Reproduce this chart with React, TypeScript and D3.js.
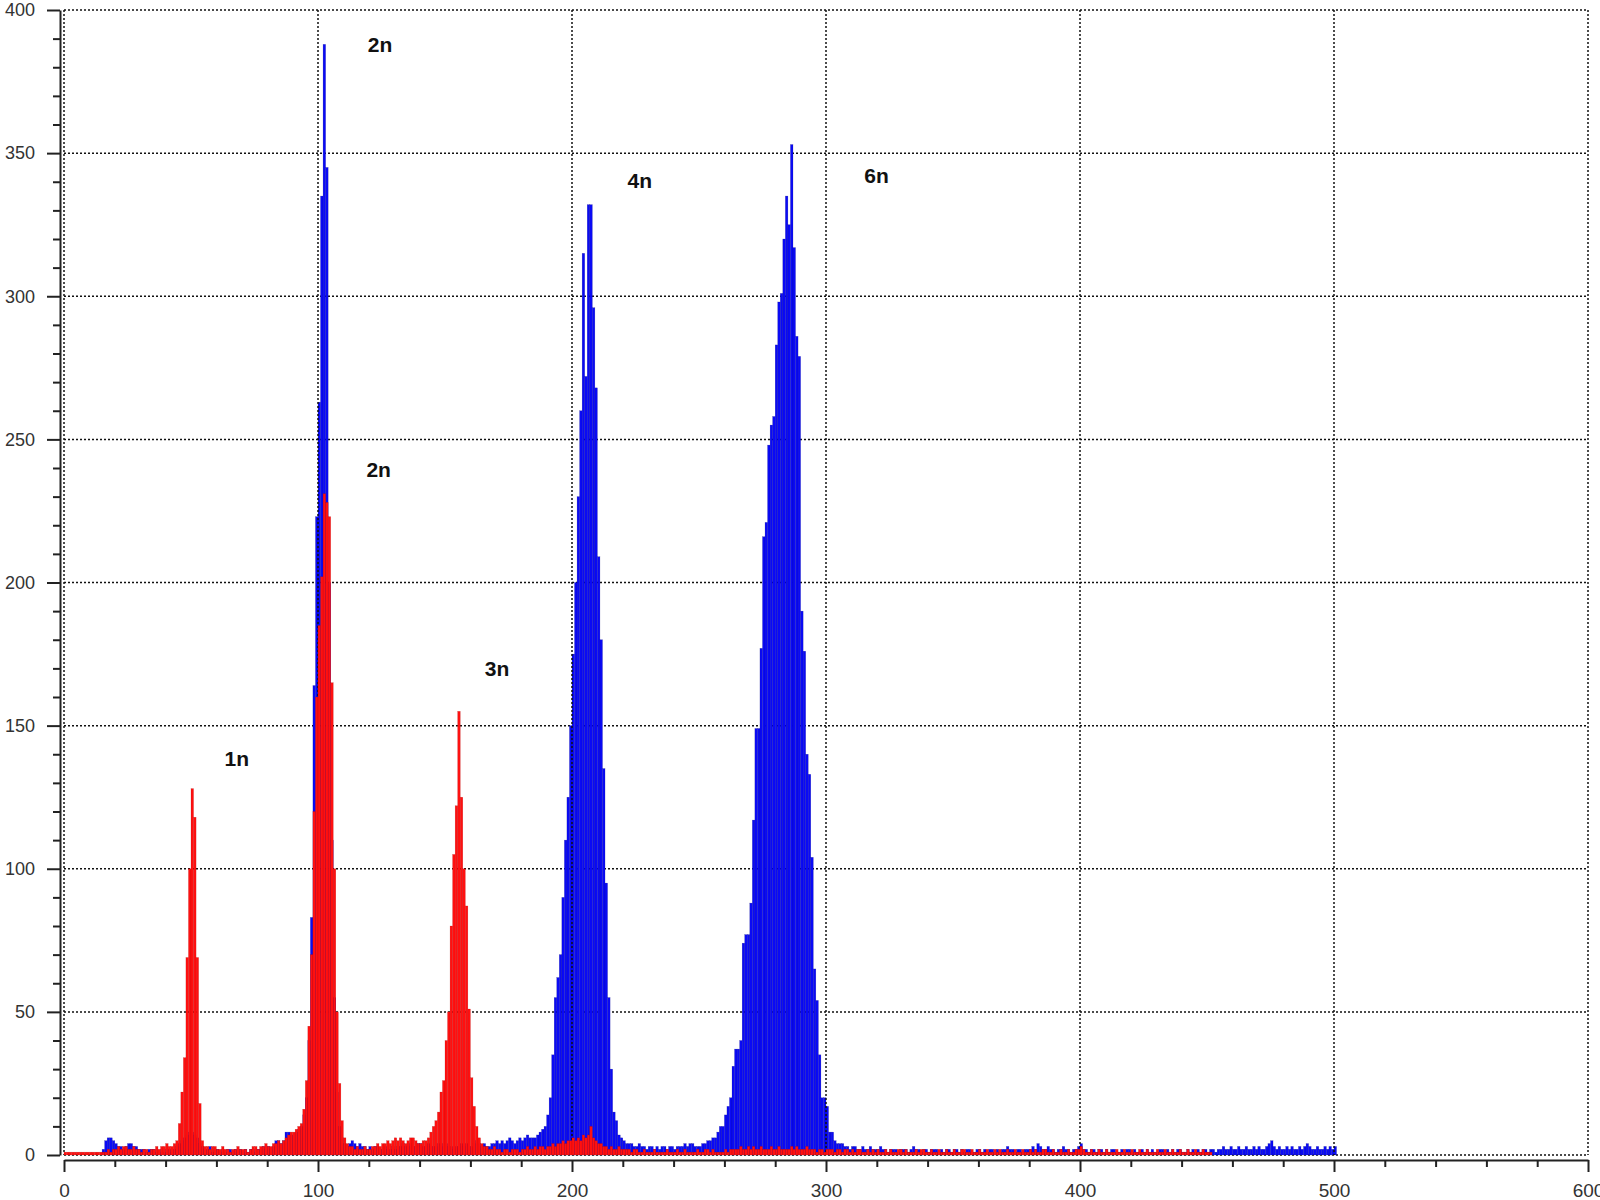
import React, { useEffect, useRef } from "react";
import * as d3 from "d3";

// histogram counts, one value per channel (bin width = 1), each list starts at the given channel
const redLow = [
  1, 1, 1, 1, 1, 1, 1, 1, 1, 1, 1, 1, 1, 1, 1,
  1, 1, 2, 1, 2, 2, 3, 2, 3, 3, 2, 2, 3, 2, 2, 1, 2, 2, 1, 2, 2, 3, 2, 3, 3, 4, 3, 3, 4,
];
const red1n = [5, 11, 22, 34, 69, 100, 128, 118, 69, 18, 5, 3];
const redGapA = [
  3, 2, 3, 3, 2, 2, 3, 2, 2, 1, 2, 2, 3, 2, 2, 2, 1, 2, 3, 3,
  2, 3, 3, 4, 3, 3, 4, 4, 5, 4, 5, 6, 7, 8,
];
const red2n = [8, 9, 10, 11, 16, 26, 45, 70, 120, 160, 185, 202, 231, 228, 223, 165, 100, 50, 25, 12, 6, 4];
const redGapB = [3, 3, 2, 3, 2, 2, 3, 2, 2, 3, 3, 4, 3, 4, 4, 5, 4, 5, 6, 5, 6, 5, 4, 5, 6, 6, 5, 4];
const red3n = [4, 5, 5, 6, 8, 10, 12, 15, 22, 26, 40, 50, 80, 105, 122, 155, 125, 100, 87, 51, 27, 17, 10, 6, 4, 3];
const redGapC = [3, 2, 2, 3, 2, 2, 1, 2, 2, 1, 2, 2, 2, 1, 2, 2, 3, 2, 2, 3, 2, 3, 3, 2];
const redUnder4n = [
  3, 3, 4, 3, 4, 4, 5, 4, 5, 5, 6, 5, 6, 5, 7, 6, 7, 10, 6, 5,
  4, 4, 3, 3, 2, 3, 2, 2, 3, 2, 2,
];
const redMid = [
  2, 2, 1, 2, 2, 1, 1, 2, 1, 1, 1, 2, 1, 1, 1, 1, 2, 1, 1, 1,
  2, 1, 1, 2, 1, 1, 1, 1, 2, 1, 1, 2, 2, 1, 2, 1, 1, 1, 1, 2,
  1, 2, 2, 2, 2, 3, 2, 2, 3, 2, 3, 2, 2, 3, 2, 2, 2, 3, 2, 2,
  3, 2, 2, 2, 2, 3, 2, 3, 2, 2, 2, 3, 2, 2, 2, 1, 2, 2, 1, 2,
];
const redTail = [
  2, 2, 1, 2, 2, 1, 2, 2, 1, 2, 1, 2, 2, 1, 1, 2, 1, 2, 1, 2,
  1, 1, 2, 1, 2, 1, 1, 2, 2, 1, 2, 1, 1, 1, 2, 1, 2, 2, 1, 1,
  2, 1, 1, 2, 1, 1, 2, 1, 1, 2, 1, 1, 2, 2, 1, 1, 2, 1, 1, 2,
  1, 1, 2, 1, 1, 2, 1, 2, 1, 1, 2, 1, 1, 2, 1, 1, 2, 1, 1, 2,
  1, 2, 1, 1, 2, 2, 1, 1, 2, 1, 1, 2, 1, 1, 2, 1, 1, 2, 2, 3,
  2, 1, 1, 2, 1, 1, 2, 1, 1, 2, 1, 1, 1, 2, 1, 1, 2, 1, 1, 2,
  1, 1, 2, 1, 1, 2, 1, 1, 1, 2, 1, 1, 2, 1, 1, 2, 1, 1, 2, 1,
  1, 2, 1, 1, 2, 1, 1, 2, 1, 1, 1,
];

const blueLow = [
  2, 5, 6, 6, 5, 4, 3, 3, 2, 3, 4, 4, 3, 3, 2, 2, 2, 1, 2, 2,
  2, 1, 1, 2, 1, 2, 2, 1, 2, 3, 4, 5, 6, 7, 8, 8, 7, 6, 4, 3,
  2, 2, 3, 1, 2, 2, 1, 2, 1, 2, 2, 1, 2, 1, 2, 1, 2, 1, 2, 2,
  1, 2, 2, 3, 2, 3, 2, 3, 5, 5, 4, 5, 8, 8, 7,
];
const blue2n = [7, 8, 9, 10, 14, 20, 40, 83, 164, 223, 263, 335, 388, 345, 200, 110, 55, 22, 10, 6, 4, 3];
const blueGapA = [
  4, 5, 4, 3, 4, 3, 3, 2, 3, 2, 3, 3, 2, 2, 3, 2, 2, 3, 2, 3,
  3, 4, 3, 3, 4, 3, 3, 4, 4, 3, 3, 4, 3, 3, 3, 4, 3, 4, 4, 3,
  3, 2, 3, 3, 4, 3, 4, 3, 3, 4, 5, 4, 3, 4, 3, 3, 4, 4, 5, 4,
  5, 4, 5, 6, 5, 4, 5, 6, 5, 6, 7, 6,
];
const blue4n = [
  6, 6, 7, 8, 9, 10, 14, 20, 35, 55, 62, 70, 90, 110, 125, 150, 175, 200, 230, 260,
  315, 272, 332, 332, 296, 268, 209, 180, 135, 95, 55, 30, 15, 12, 7, 6, 5, 4, 4,
];
const blueGapB = [4, 3, 3, 4, 3, 3, 2, 3, 3, 2, 3, 2, 3, 3, 2, 3, 3, 2, 3, 3, 3, 4, 3, 4, 4, 3, 3];
const blue6n = [
  3, 4, 4, 5, 5, 6, 6, 8, 10, 10, 14, 17, 20, 31, 37, 37, 40, 74, 77, 77,
  88, 117, 149, 149, 177, 216, 221, 248, 255, 258, 283, 298, 301, 320, 335, 325, 353, 317, 286, 279,
  190, 176, 140, 133, 104, 65, 54, 35, 20, 20, 17, 8, 8, 5, 4, 4,
];
const blueTail = [
  4, 3, 3, 2, 3, 3, 2, 2, 3, 2, 2, 3, 2, 2, 2, 3, 2, 2, 1, 2,
  2, 2, 1, 2, 2, 2, 1, 2, 3, 2, 2, 1, 2, 2, 1, 2, 2, 2, 1, 2,
  1, 2, 2, 1, 2, 2, 1, 2, 1, 2, 2, 1, 1, 2, 2, 1, 2, 1, 2, 2,
  1, 2, 1, 2, 2, 3, 2, 2, 1, 2, 2, 1, 2, 2, 2, 3, 2, 4, 3, 2,
  2, 3, 2, 2, 1, 2, 2, 3, 2, 2, 1, 2, 2, 3, 4, 2, 2, 1, 2, 2,
  1, 2, 2, 1, 2, 1, 2, 2, 1, 1, 2, 1, 2, 2, 1, 2, 1, 1, 2, 1,
  2, 1, 2, 1, 1, 2, 2, 1, 2, 1, 2, 1, 2, 2, 1, 1, 2, 1, 2, 1,
  2, 1, 2, 2, 1, 2, 2, 1, 2, 2, 3, 2, 2, 3, 2, 2, 3, 2, 2, 3,
  2, 2, 3, 2, 3, 2, 2, 3, 4, 5, 3, 2, 3, 2, 2, 3, 2, 3, 2, 2,
  3, 2, 3, 4, 3, 2, 2, 3, 2, 2, 3, 2, 3, 2, 3,
];

const redSegments: [number, number[]][] = [
  [0, redLow], [44, red1n], [56, redGapA], [90, red2n], [112, redGapB],
  [140, red3n], [166, redGapC], [190, redUnder4n], [221, redMid], [301, redTail],
];
const blueSegments: [number, number[]][] = [
  [15, blueLow], [90, blue2n], [112, blueGapA], [184, blue4n],
  [223, blueGapB], [250, blue6n], [306, blueTail],
];

const xTicks = [0, 100, 200, 300, 400, 500, 600];
const yTicks = [0, 50, 100, 150, 200, 250, 300, 350, 400];

const peakLabels = [
  { text: "2n", x: 124.4, y: 388 },
  { text: "2n", x: 123.9, y: 239.5 },
  { text: "4n", x: 226.7, y: 340.4 },
  { text: "6n", x: 319.9, y: 342.2 },
  { text: "3n", x: 170.5, y: 170 },
  { text: "1n", x: 68, y: 138.6 },
];

const W = 1600;
const H = 1200;
const FONT = "'Liberation Sans', Arial, sans-serif";

type Bin = { bin: number; v: number };

const toBins = (segs: [number, number[]][]): Bin[] => {
  const out: Bin[] = [];
  segs.forEach(([start, vals]) => vals.forEach((v, i) => out.push({ bin: start + i, v })));
  return out.filter((d) => d.v > 0);
};

export default function App() {
  const svgRef = useRef<SVGSVGElement>(null);

  useEffect(() => {
    if (!svgRef.current) return;
    const svg = d3.select(svgRef.current);
    svg.selectAll("*").remove();

    const x = d3.scaleLinear().domain([0, 600]).range([64, 1588]);
    const y = d3.scaleLinear().domain([0, 400]).range([1155, 10]);

    svg.append("rect").attr("width", W).attr("height", H).attr("fill", "#fff");

    // horizontal grid sits behind the histograms
    svg
      .append("g")
      .selectAll("line")
      .data(yTicks)
      .join("line")
      .attr("x1", x(0))
      .attr("x2", x(600))
      .attr("y1", (d) => y(d))
      .attr("y2", (d) => y(d))
      .attr("stroke", "#111")
      .attr("stroke-width", 1.5)
      .attr("stroke-dasharray", "2,2");

    const drawBars = (data: Bin[], fill: string, edge: string) => {
      svg
        .append("g")
        .selectAll("rect")
        .data(data)
        .join("rect")
        .attr("x", (d) => x(d.bin))
        .attr("width", (d) => x(d.bin + 1) - x(d.bin))
        .attr("y", (d) => y(d.v))
        .attr("height", (d) => y(0) - y(d.v))
        .attr("fill", fill)
        .attr("stroke", edge)
        .attr("stroke-opacity", 0.45)
        .attr("stroke-width", 0.4);
    };

    drawBars(toBins(blueSegments), "#0a0af5", "#000070");

    // vertical grid is drawn over the blue trace
    svg
      .append("g")
      .selectAll("line")
      .data(xTicks)
      .join("line")
      .attr("x1", (d) => x(d))
      .attr("x2", (d) => x(d))
      .attr("y1", y(400))
      .attr("y2", y(0))
      .attr("stroke", "#111")
      .attr("stroke-width", 1.5)
      .attr("stroke-dasharray", "2,2");

    drawBars(toBins(redSegments), "#ff1010", "#a00000");

    // axes
    const yMinor = d3.range(0, 401, 10).filter((d) => d % 50 !== 0);
    const xMinor = d3.range(0, 601, 20).filter((d) => d % 100 !== 0);

    const yAxis = svg
      .append("g")
      .attr("transform", "translate(60,0)")
      .call(d3.axisLeft(y).tickValues(yTicks).tickSize(13).tickSizeOuter(0).tickPadding(12));
    svg
      .append("g")
      .attr("transform", "translate(60,0)")
      .call(d3.axisLeft(y).tickValues(yMinor).tickSize(7).tickFormat(() => ""))
      .call((g) => g.select(".domain").remove());

    const xAxis = svg
      .append("g")
      .attr("transform", "translate(0,1160)")
      .call(d3.axisBottom(x).tickValues(xTicks).tickSize(12).tickSizeOuter(0).tickPadding(12));
    svg
      .append("g")
      .attr("transform", "translate(0,1160)")
      .call(d3.axisBottom(x).tickValues(xMinor).tickSize(7).tickFormat(() => ""))
      .call((g) => g.select(".domain").remove());

    svg
      .selectAll(".domain, .tick line")
      .attr("stroke", "#222")
      .attr("stroke-width", 2);

    [yAxis, xAxis].forEach((a) =>
      a
        .selectAll("text")
        .style("font-family", FONT)
        .style("font-size", "18px")
        .style("fill", "#333"),
    );
    xAxis.selectAll("text").style("font-size", "19px");

    svg
      .append("g")
      .selectAll("text")
      .data(peakLabels)
      .join("text")
      .attr("x", (d) => x(d.x))
      .attr("y", (d) => y(d.y))
      .attr("text-anchor", "middle")
      .attr("dominant-baseline", "central")
      .style("font-family", FONT)
      .style("font-size", "21px")
      .style("font-weight", "bold")
      .style("fill", "#111")
      .text((d) => d.text);
  }, []);

  return (
    <svg
      ref={svgRef}
      width={W}
      height={H}
      style={{ position: "absolute", left: 0, top: 0, display: "block" }}
    />
  );
}
